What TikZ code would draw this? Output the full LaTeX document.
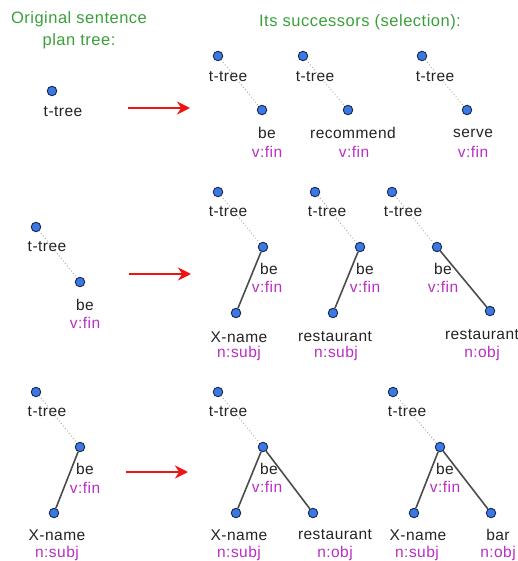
\documentclass[tikz,border=0pt]{standalone}
\usepackage{fontspec}
\setmainfont{Liberation Sans}
\usetikzlibrary{arrows.meta}
\definecolor{headgreen}{RGB}{58,160,58}
\definecolor{tagpink}{RGB}{185,45,195}
\definecolor{dotblue}{RGB}{58,120,228}
\definecolor{dotrim}{RGB}{25,40,80}
\definecolor{arrowred}{RGB}{238,20,20}
\definecolor{wordgray}{RGB}{35,35,35}
\newfontfamily\spacedfont[LetterSpace=3]{Liberation Sans}
\tikzset{
  x=1pt, y=-1pt,
  treenode/.style={circle, fill=dotblue, draw=dotrim, line width=0.9pt, minimum size=9.5pt, inner sep=0pt},
  word/.style={inner sep=0pt, text=wordgray, font=\spacedfont\fontsize{15.5}{17}\selectfont},
  tagtext/.style={inner sep=0pt, text=tagpink, font=\spacedfont\fontsize{15.5}{17}\selectfont},
  heading/.style={inner sep=0pt, text=headgreen, font=\spacedfont\fontsize{16.5}{22}\selectfont, align=center},
  weakedge/.style={draw=gray!75, line width=1.2pt, dash pattern=on 0pt off 3.2pt, line cap=round},
  strongedge/.style={draw=black!70, line width=1.6pt},
  bigarrow/.style={draw=arrowred, line width=2.6pt, -{Stealth[length=13pt,width=13pt]}}
}
\begin{document}
\begin{tikzpicture}
\useasboundingbox (0,0) rectangle (518,561);

% headings
\node[heading] (h1) at (79,30) {Original sentence\\plan tree:};
\node[heading] (h2) at (360,22) {Its successors (selection):};

% ---------- row 1 ----------
\node[treenode] (a0) at (52,91) {};
\node[word] (a0w) at (63,112) {t-tree};
\coordinate (r1s) at (128,108);
\coordinate (r1e) at (190,108);
\draw[bigarrow] (r1s) -- (r1e);

\node[treenode] (b1t) at (218,56) {};
\node[word] (b1tw) at (228,77) {t-tree};
\node[treenode] (b1v) at (262,110) {};
\node[word] (b1vw) at (267,133) {be};
\node[tagtext] (b1vt) at (267,152) {v:fin};
\draw[weakedge] (b1t) -- (b1v);

\node[treenode] (b2t) at (303,56) {};
\node[word] (b2tw) at (315,77) {t-tree};
\node[treenode] (b2v) at (348,110) {};
\node[word] (b2vw) at (353,133) {recommend};
\node[tagtext] (b2vt) at (354,152) {v:fin};
\draw[weakedge] (b2t) -- (b2v);

\node[treenode] (b3t) at (422,56) {};
\node[word] (b3tw) at (435,77) {t-tree};
\node[treenode] (b3v) at (467,110) {};
\node[word] (b3vw) at (473,133) {serve};
\node[tagtext] (b3vt) at (473,152) {v:fin};
\draw[weakedge] (b3t) -- (b3v);

% ---------- row 2 ----------
\node[treenode] (c0t) at (36,227) {};
\node[word] (c0tw) at (47,247) {t-tree};
\node[treenode] (c0v) at (80,282) {};
\node[word] (c0vw) at (85,305) {be};
\node[tagtext] (c0vt) at (85,323) {v:fin};
\draw[weakedge] (c0t) -- (c0v);
\coordinate (r2s) at (129,274);
\coordinate (r2e) at (191,274);
\draw[bigarrow] (r2s) -- (r2e);

\node[treenode] (d1t) at (218,192) {};
\node[word] (d1tw) at (228,212) {t-tree};
\node[treenode] (d1v) at (263,247) {};
\node[word] (d1vw) at (269,269) {be};
\node[tagtext] (d1vt) at (267,287) {v:fin};
\node[treenode] (d1s) at (236,313) {};
\node[word] (d1sw) at (239,337) {X-name};
\node[tagtext] (d1st) at (239,353) {n:subj};
\draw[weakedge] (d1t) -- (d1v);
\draw[strongedge] (d1v) -- (d1s);

\node[treenode] (d2t) at (315,192) {};
\node[word] (d2tw) at (327,212) {t-tree};
\node[treenode] (d2v) at (360,247) {};
\node[word] (d2vw) at (365,269) {be};
\node[tagtext] (d2vt) at (365,287) {v:fin};
\node[treenode] (d2s) at (333,313) {};
\node[word] (d2sw) at (335,337) {restaurant};
\node[tagtext] (d2st) at (336,353) {n:subj};
\draw[weakedge] (d2t) -- (d2v);
\draw[strongedge] (d2v) -- (d2s);

\node[treenode] (d3t) at (392,192) {};
\node[word] (d3tw) at (403,212) {t-tree};
\node[treenode] (d3v) at (437,247) {};
\node[word] (d3vw) at (443,269) {be};
\node[tagtext] (d3vt) at (443,287) {v:fin};
\node[treenode] (d3o) at (490,311) {};
\node[word] (d3ow) at (482,335) {restaurant};
\node[tagtext] (d3ot) at (482,353) {n:obj};
\draw[weakedge] (d3t) -- (d3v);
\draw[strongedge] (d3v) -- (d3o);

% ---------- row 3 ----------
\node[treenode] (e0t) at (36,392) {};
\node[word] (e0tw) at (47,412) {t-tree};
\node[treenode] (e0v) at (80,447) {};
\node[word] (e0vw) at (85,469) {be};
\node[tagtext] (e0vt) at (85,488) {v:fin};
\node[treenode] (e0s) at (54,513) {};
\node[word] (e0sw) at (57,535) {X-name};
\node[tagtext] (e0st) at (57,553) {n:subj};
\draw[weakedge] (e0t) -- (e0v);
\draw[strongedge] (e0v) -- (e0s);
\coordinate (r3s) at (126,472);
\coordinate (r3e) at (188,472);
\draw[bigarrow] (r3s) -- (r3e);

\node[treenode] (f1t) at (218,392) {};
\node[word] (f1tw) at (228,412) {t-tree};
\node[treenode] (f1v) at (263,447) {};
\node[word] (f1vw) at (269,469) {be};
\node[tagtext] (f1vt) at (267,487) {v:fin};
\node[treenode] (f1s) at (236,513) {};
\node[word] (f1sw) at (239,535) {X-name};
\node[tagtext] (f1st) at (239,553) {n:subj};
\node[treenode] (f1o) at (313,513) {};
\node[word] (f1ow) at (335,535) {restaurant};
\node[tagtext] (f1ot) at (335,553) {n:obj};
\draw[weakedge] (f1t) -- (f1v);
\draw[strongedge] (f1v) -- (f1s);
\draw[strongedge] (f1v) -- (f1o);

\node[treenode] (f2t) at (393,392) {};
\node[word] (f2tw) at (407,412) {t-tree};
\node[treenode] (f2v) at (440,447) {};
\node[word] (f2vw) at (445,469) {be};
\node[tagtext] (f2vt) at (445,487) {v:fin};
\node[treenode] (f2s) at (414,513) {};
\node[word] (f2sw) at (418,535) {X-name};
\node[tagtext] (f2st) at (417,553) {n:subj};
\node[treenode] (f2o) at (491,513) {};
\node[word] (f2ow) at (498,535) {bar};
\node[tagtext] (f2ot) at (498,553) {n:obj};
\draw[weakedge] (f2t) -- (f2v);
\draw[strongedge] (f2v) -- (f2s);
\draw[strongedge] (f2v) -- (f2o);
\end{tikzpicture}
\end{document}
